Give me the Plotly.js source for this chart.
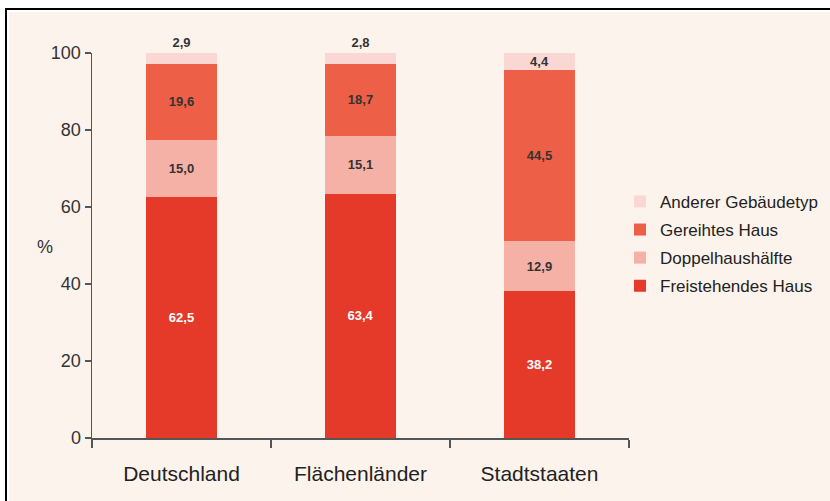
<!DOCTYPE html>
<html>
<head>
<meta charset="utf-8">
<script src="https://cdn.plot.ly/plotly-3.0.1.min.js"></script>
<style>
  body { margin: 0; background: #fff; }
  #frame { position: absolute; left: 5px; top: 8px; width: 825px; height: 493px;
           border-top: 2px solid #000; border-left: 2px solid #000; }
  #bg { position: absolute; left: 9px; top: 12px; width: 821px; height: 489px; background: #fdf3ed; }
  #plotArea { position: absolute; left: 0; top: 0; width: 830px; height: 501px; }
</style>
</head>
<body>
<div id="frame"></div>
<div id="bg"></div>
<div id="plotArea"></div>
<script>
// Anteile der Gebäudetypen in %
var regions = ["Deutschland", "Flächenländer", "Stadtstaaten"];
var freistehend = [62.5, 63.4, 38.2];
var doppelhaus = [15.0, 15.1, 12.9];
var gereiht = [19.6, 18.7, 44.5];
var anderer = [2.9, 2.8, 4.4];

var font = "Liberation Sans, Arial, sans-serif";
var labelFont = { family: font, size: 13, color: "#333" };

function barTrace(name, values, color, textColor, rank) {
	return {
		x: regions,
		y: values,
		name: name,
		legendgroup: name,
		legendrank: rank,
		type: "bar",
		marker: { color: color },
		texttemplate: "<b>%{y:.1f}</b>",
		textposition: "inside",
		insidetextanchor: "middle",
		textangle: 0,
		constraintext: "none",
		insidetextfont: { family: font, size: 13, color: textColor },
		outsidetextfont: labelFont,
		cliponaxis: false,
		hoverinfo: "none"
	};
}

var trace1 = barTrace("Freistehendes Haus", freistehend, "#e5392a", "#fff", 4);
var trace2 = barTrace("Doppelhaushälfte", doppelhaus, "#f6b1a6", "#333", 3);
var trace3 = barTrace("Gereihtes Haus", gereiht, "#ee5f47", "#333", 2);
var trace4 = barTrace("Anderer Gebäudetyp", anderer, "#fad7d2", "#333", 1);
trace4.textposition = ["outside", "outside", "inside"];

var data = [trace1, trace2, trace3, trace4];

var layout = {
	width: 830,
	height: 501,
	margin: { l: 92, r: 201, t: 53, b: 63, autoexpand: false },
	paper_bgcolor: "rgba(0,0,0,0)",
	plot_bgcolor: "rgba(0,0,0,0)",
	barmode: "stack",
	bargap: 0.6,
	separators: ",.",
	showlegend: true,
	font: { family: font, color: "#333" },
	xaxis: {
		type: "category",
		range: [-0.5, 2.5],
		tickson: "boundaries",
		ticks: "outside",
		ticklen: 8,
		tickwidth: 1.5,
		tickcolor: "#555",
		ticklabelstandoff: 16,
		showline: true,
		linecolor: "#555",
		linewidth: 1.5,
		showgrid: false,
		zeroline: false,
		tickfont: { family: font, size: 21, color: "#222" },
		fixedrange: true
	},
	yaxis: {
		range: [0, 100],
		tickvals: [0, 20, 40, 60, 80, 100],
		ticks: "outside",
		ticklen: 6,
		tickwidth: 1.5,
		tickcolor: "#555",
		showline: true,
		linecolor: "#555",
		linewidth: 1.5,
		showgrid: false,
		zeroline: false,
		tickfont: { family: font, size: 18, color: "#333" },
		fixedrange: true
	},
	legend: {
		x: 0.747,
		xref: "container",
		xanchor: "left",
		y: 0.66,
		yanchor: "top",
		traceorder: "grouped",
		tracegroupgap: 3,
		bgcolor: "rgba(0,0,0,0)",
		font: { family: font, size: 17, color: "#222" }
	},
	annotations: [{
		text: "%",
		xref: "paper",
		yref: "paper",
		x: -0.106,
		y: 0.496,
		showarrow: false,
		font: { family: font, size: 18, color: "#333" }
	}]
};

Plotly.newPlot("plotArea", data, layout, { staticPlot: true });
</script>
</body>
</html>
